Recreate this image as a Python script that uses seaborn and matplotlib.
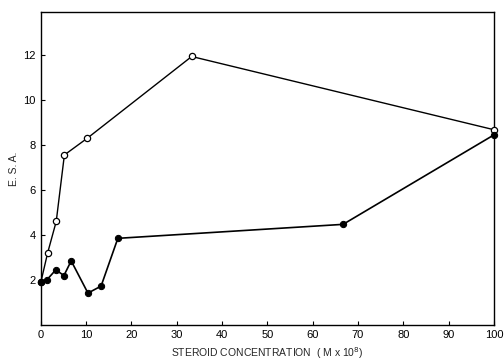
import matplotlib
matplotlib.use("Agg")
import matplotlib.pyplot as plt
import seaborn as sns
import pandas as pd

# Open-circle series
open_x = [0, 1.5, 3.4, 5.2, 10.3, 33.3, 100]
open_y = [1.9, 3.2, 4.6, 7.55, 8.3, 11.92, 8.67]
# Filled-circle series
fill_x = [0, 1.3, 3.3, 5.1, 6.7, 10.4, 13.3, 17.0, 66.7, 100]
fill_y = [1.9, 2.0, 2.45, 2.2, 2.85, 1.42, 1.73, 3.85, 4.47, 8.44]

x_ticks = [0, 10, 20, 30, 40, 50, 60, 70, 80, 90, 100]
y_ticks = [2, 4, 6, 8, 10, 12]

sns.set_theme(style="ticks")
plt.rcParams['font.family'] = ['Liberation Sans', 'DejaVu Sans']

df_open = pd.DataFrame({"x": open_x, "y": open_y})
df_fill = pd.DataFrame({"x": fill_x, "y": fill_y})

fig = plt.figure(figsize=(5.04, 3.6), dpi=100)
ax = fig.add_axes([0.081, 0.097, 0.899, 0.870])

sns.lineplot(data=df_open, x="x", y="y", ax=ax, color="black", lw=1.0,
             marker="o", markersize=4.5, markerfacecolor="white",
             markeredgecolor="black", markeredgewidth=0.9, sort=False,
             clip_on=False, zorder=3)
sns.lineplot(data=df_fill, x="x", y="y", ax=ax, color="black", lw=1.2,
             marker="o", markersize=4.5, markerfacecolor="black",
             markeredgecolor="black", sort=False, clip_on=False, zorder=4)

ax.set_xlim(0, 100)
ax.set_ylim(0, 13.9)
ax.set_xticks(x_ticks)
ax.set_yticks(y_ticks)
ax.tick_params(direction="in", length=3, width=0.8, labelsize=8, colors="black")
for s in ax.spines.values():
    s.set_linewidth(1.0)
    s.set_color("black")
ax.set_xlabel("STEROID CONCENTRATION  ( M x 10$^8$)", fontsize=7.5, labelpad=4)
ax.set_ylabel("E. S. A.", fontsize=7.5, labelpad=3)

fig.savefig("out.png", dpi=100)
